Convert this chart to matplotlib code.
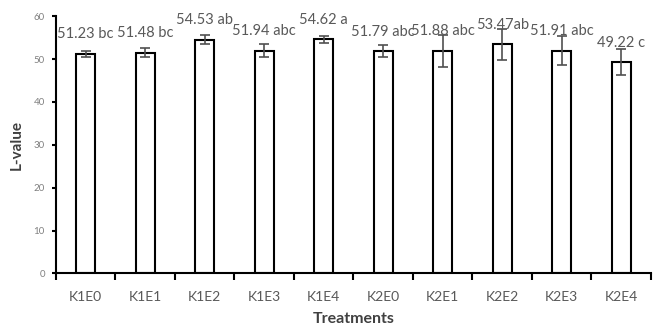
import matplotlib
matplotlib.use("Agg")
import matplotlib.pyplot as plt
import numpy as np

categories = ["K1E0", "K1E1", "K1E2", "K1E3", "K1E4", "K2E0", "K2E1", "K2E2", "K2E3", "K2E4"]
values = [51.23, 51.48, 54.53, 51.94, 54.62, 51.79, 51.88, 53.47, 51.91, 49.22]
errors = [0.7, 1.1, 1.0, 1.5, 0.8, 1.4, 3.8, 3.6, 3.4, 3.0]
labels = ["51.23 bc", "51.48 bc", "54.53 ab", "51.94 abc", "54.62 a",
          "51.79 abc", "51.88 abc", "53.47ab", "51.91 abc", "49.22 c"]
yticks = [0, 10, 20, 30, 40, 50, 60]

plt.rcParams['font.family'] = ['Lato', 'DejaVu Sans']

fig = plt.figure(figsize=(6.6, 3.29), dpi=100)
ax = fig.add_axes([0.0848, 0.169, 0.9015, 0.782])

x = np.arange(len(categories))
ax.bar(x, values, width=0.32, color="white", edgecolor="black", linewidth=1.5, zorder=2)
ax.errorbar(x, values, yerr=errors, fmt="none", ecolor="#505050", elinewidth=1.2,
            capsize=3.5, capthick=1.2, zorder=3)
for xi, v, lab in zip(x, values, labels):
    ax.annotate(lab, (xi, v), xytext=(0, 9), textcoords="offset points",
                ha="center", va="bottom", fontsize=10.5, color="#595959", zorder=4)

ax.set_xlim(-0.5, len(categories) - 0.5)
ax.set_ylim(0, 60)
ax.set_yticks(yticks)
ax.set_yticklabels([str(t) for t in yticks], fontsize=7, color="#808080")
ax.set_xticks(x)
ax.set_xticklabels(categories, fontsize=10, color="#595959")
ax.tick_params(axis="x", which="major", length=0, pad=13)
ax.set_xticks(np.arange(-0.5, len(categories), 1.0), minor=True)
ax.tick_params(axis="x", which="minor", length=5, width=1.5, direction="out", color="black")
ax.tick_params(axis="y", length=3, width=1.5, direction="out", color="black", pad=5)

for s in ["top", "right"]:
    ax.spines[s].set_visible(False)
for s in ["left", "bottom"]:
    ax.spines[s].set_linewidth(1.5)
    ax.spines[s].set_color("black")

ax.set_ylabel("L-value", fontsize=11, fontweight="bold", color="#404040", labelpad=7)
ax.set_xlabel("Treatments", fontsize=11.5, fontweight="bold", color="#404040", labelpad=6)

fig.savefig("out.png", dpi=100)
